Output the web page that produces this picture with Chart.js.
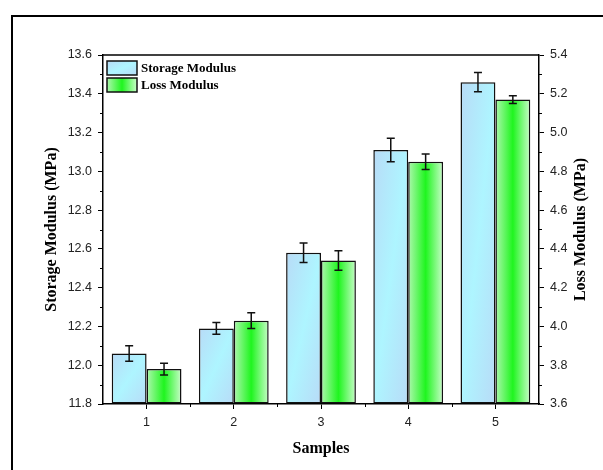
<!DOCTYPE html>
<html>
<head>
<meta charset="utf-8">
<script src="https://cdn.jsdelivr.net/npm/chart.js@4.4.0/dist/chart.umd.min.js"></script>
<style>
  html, body { margin: 0; padding: 0; background: #fff; }
  canvas { display: block; }
</style>
</head>
<body>
<canvas id="chart" width="603" height="470"></canvas>
<script>
// data
const samples = ['1', '2', '3', '4', '5'];
const storage = [12.06, 12.19, 12.58, 13.11, 13.46];
const storageErr = [0.04, 0.03, 0.05, 0.06, 0.05];
const loss = [3.78, 4.03, 4.34, 4.85, 5.17];
const lossErr = [0.03, 0.04, 0.05, 0.04, 0.02];

const serif = 'Liberation Serif';
const sans = 'Liberation Sans';

function blueGrad(c, g) {
  const w = g.right - g.left, h = g.bottom - g.top;
  const cx = (g.left + g.right) / 2, cy = (g.top + g.bottom) / 2;
  const n = Math.hypot(w, h) || 1;
  const ux = h / n, uy = w / n;
  const L = w * h / n || 1;
  const gr = c.createLinearGradient(cx - ux * L, cy - uy * L, cx + ux * L, cy + uy * L);
  gr.addColorStop(0, '#b8dbf7');
  gr.addColorStop(0.5, '#aef5ff');
  gr.addColorStop(1, '#b8dbf7');
  return gr;
}

function greenGrad(c, g) {
  const gr = c.createLinearGradient(g.left, 0, g.right, 0);
  gr.addColorStop(0, '#aef7ae');
  gr.addColorStop(0.5, '#1ff51f');
  gr.addColorStop(1, '#c9fcc9');
  return gr;
}

function barGeom(ctx, axisId) {
  const chart = ctx.chart;
  const xs = chart.scales.x, ys = chart.scales[axisId];
  const bw = xs.width / samples.length * 0.8 / 2;
  const cx = xs.getPixelForValue(ctx.dataIndex);
  const left = ctx.datasetIndex === 0 ? cx - bw : cx;
  return { left, right: left + bw, top: ys.getPixelForValue(ctx.raw), bottom: ys.getPixelForValue(ys.min) };
}

function fillFor(kind) {
  return (ctx) => {
    if (ctx.type !== 'data' || !ctx.chart.chartArea || !ctx.chart.scales.x) {
      return kind === 'blue' ? '#b4e6fb' : '#66f566';
    }
    const g = barGeom(ctx, kind === 'blue' ? 'y' : 'y1');
    return kind === 'blue' ? blueGrad(ctx.chart.ctx, g) : greenGrad(ctx.chart.ctx, g);
  };
}

const extras = {
  id: 'extras',
  afterDatasetsDraw(chart) {
    const c = chart.ctx;
    c.save();
    c.strokeStyle = '#111';
    c.lineWidth = 1.5;
    [[0, 'y', storage, storageErr], [1, 'y1', loss, lossErr]].forEach(([di, axis, vals, errs]) => {
      const meta = chart.getDatasetMeta(di);
      const ys = chart.scales[axis];
      meta.data.forEach((bar, i) => {
        const x = bar.x;
        const yt = ys.getPixelForValue(vals[i] + errs[i]);
        const yb = ys.getPixelForValue(vals[i] - errs[i]);
        c.beginPath();
        c.moveTo(x, yt); c.lineTo(x, yb);
        c.moveTo(x - 4, yt); c.lineTo(x + 4, yt);
        c.moveTo(x - 4, yb); c.lineTo(x + 4, yb);
        c.stroke();
      });
    });
    c.restore();
  },
  afterDraw(chart) {
    const c = chart.ctx;
    const a = chart.chartArea;
    const xs = chart.scales.x, y = chart.scales.y, y1 = chart.scales.y1;
    c.save();
    // top frame line
    c.strokeStyle = '#000';
    c.lineWidth = 1.5;
    c.beginPath();
    c.moveTo(a.left, a.top); c.lineTo(a.right, a.top);
    c.stroke();
    // minor ticks
    c.lineWidth = 1;
    c.beginPath();
    for (let v = 11.9; v < 13.6; v += 0.2) {
      const py = Math.round(y.getPixelForValue(v)) + 0.5;
      c.moveTo(a.left, py); c.lineTo(a.left - 3, py);
    }
    for (let v = 3.7; v < 5.4; v += 0.2) {
      const py = Math.round(y1.getPixelForValue(v)) + 0.5;
      c.moveTo(a.right, py); c.lineTo(a.right + 3, py);
    }
    const cw = xs.width / samples.length;
    for (let k = 1; k < samples.length; k++) {
      const px = Math.round(a.left + k * cw) + 0.5;
      c.moveTo(px, a.bottom); c.lineTo(px, a.bottom + 3);
    }
    c.stroke();
    // legend
    const rows = [['Storage Modulus', 'blue', 61], ['Loss Modulus', 'green', 78]];
    rows.forEach(([label, kind, top]) => {
      const g = { left: 107, right: 137, top: top, bottom: top + 14 };
      c.fillStyle = kind === 'blue' ? blueGrad(c, g) : greenGrad(c, g);
      c.fillRect(g.left, g.top, 30, 14);
      c.strokeStyle = '#111';
      c.lineWidth = 1.5;
      c.strokeRect(g.left, g.top, 30, 14);
      c.fillStyle = '#000';
      c.font = 'bold 13px "' + serif + '"';
      c.textAlign = 'left';
      c.textBaseline = 'middle';
      c.fillText(label, 141, top + 7.5);
    });
    // right axis title, reading bottom to top
    c.translate(581, (a.top + a.bottom) / 2);
    c.rotate(-Math.PI / 2);
    c.font = 'bold 16px "' + serif + '"';
    c.textAlign = 'center';
    c.textBaseline = 'middle';
    c.fillText('Loss Modulus (MPa)', 0, 0);
    c.restore();
    // outer figure border
    c.save();
    c.strokeStyle = '#000';
    c.lineWidth = 2;
    c.beginPath();
    c.moveTo(12, 470); c.lineTo(12, 16); c.lineTo(603, 16);
    c.stroke();
    c.restore();
  }
};

const tickFont = { family: sans, size: 12.5 };
const titleFont = { family: serif, size: 16, weight: 'bold' };

new Chart(document.getElementById('chart'), {
  type: 'bar',
  data: {
    labels: samples,
    datasets: [
      {
        label: 'Storage Modulus',
        data: storage,
        yAxisID: 'y',
        base: 11.8,
        backgroundColor: fillFor('blue'),
        borderColor: '#111',
        borderWidth: 1.5,
        borderSkipped: false
      },
      {
        label: 'Loss Modulus',
        data: loss,
        yAxisID: 'y1',
        base: 3.6,
        backgroundColor: fillFor('green'),
        borderColor: '#111',
        borderWidth: 1.5,
        borderSkipped: false
      }
    ]
  },
  options: {
    responsive: false,
    animation: false,
    events: [],
    categoryPercentage: 0.8,
    barPercentage: 1.0,
    layout: { padding: { top: 55, left: 0, right: 0, bottom: 0 } },
    plugins: {
      legend: { display: false },
      tooltip: { enabled: false }
    },
    scales: {
      x: {
        grid: { offset: false, drawOnChartArea: false, drawTicks: true, tickLength: 5, color: '#000' },
        border: { color: '#000', width: 1.5 },
        ticks: { font: tickFont, color: '#222', padding: 6 },
        title: { display: true, text: 'Samples', font: titleFont, color: '#000', padding: { top: 0, bottom: 12 } },
        afterFit: (s) => { s.height = 66; }
      },
      y: {
        position: 'left',
        min: 11.8,
        max: 13.6,
        ticks: { stepSize: 0.2, font: tickFont, color: '#222', padding: 6, callback: (v) => Number(v).toFixed(1) },
        grid: { drawOnChartArea: false, drawTicks: true, tickLength: 5, color: '#000' },
        border: { color: '#000', width: 1.5 },
        title: { display: true, text: 'Storage Modulus (MPa)', font: titleFont, color: '#000', padding: { top: 42, bottom: 0 } },
        afterFit: (s) => { s.width = 103; }
      },
      y1: {
        position: 'right',
        min: 3.6,
        max: 5.4,
        ticks: { stepSize: 0.2, font: tickFont, color: '#222', padding: 6, callback: (v) => Number(v).toFixed(1) },
        grid: { drawOnChartArea: false, drawTicks: true, tickLength: 5, color: '#000' },
        border: { color: '#000', width: 1.5 },
        afterFit: (s) => { s.width = 64; }
      }
    }
  },
  plugins: [extras]
});
</script>
</body>
</html>
